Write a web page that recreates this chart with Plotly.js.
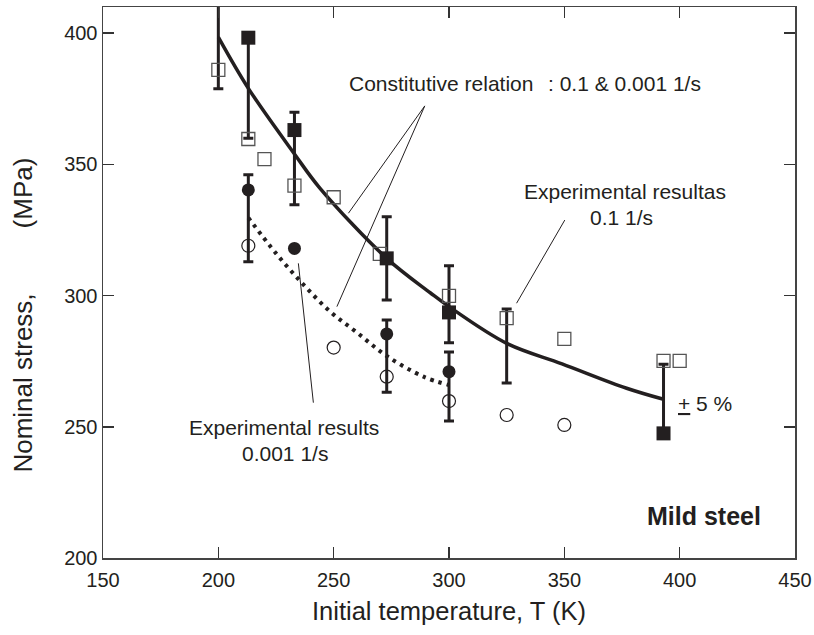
<!DOCTYPE html>
<html>
<head>
<meta charset="utf-8">
<script src="https://cdn.plot.ly/plotly-3.0.1.min.js"></script>
<style>html,body{margin:0;padding:0;background:#fff;}#chart{width:814px;height:635px;}</style>
</head>
<body>
<div id="chart"></div>
<script>
// ---- data ----
var sqFilledT = [213, 233, 273, 300, 393];
var sqFilledS = [398.3, 363.1, 314.2, 293.6, 247.5];

var sqOpenT = [200, 213, 220, 233, 250, 270, 300, 325, 350, 393, 400];
var sqOpenS = [386.0, 359.7, 352.0, 341.9, 337.5, 315.9, 299.9, 291.4, 283.5, 275.1, 275.1];

var cFilledT = [213, 233, 273, 300];
var cFilledS = [340.3, 318.0, 285.4, 271.0];

var cOpenT = [213, 250, 273, 300, 325, 350];
var cOpenS = [319.0, 280.2, 269.1, 259.8, 254.5, 250.7];

// error bars (+/- 5 %): low and high ends
var errT    = [200, 213, 233, 273, 300, 213, 273, 300, 325, 393];
var errLow  = [378.8, 360.0, 334.6, 298.3, 282.0, 312.9, 263.2, 252.2, 266.7, 247.5];
var errHigh = [430.0, 398.3, 369.9, 330.1, 311.4, 346.1, 290.7, 278.5, 294.9, 273.8];

// constitutive relation curves
var fastT = [200, 213, 233, 244, 273, 292, 300, 325, 349, 377, 393];
var fastS = [398.5, 379.0, 354.0, 341.0, 314.2, 301.0, 295.8, 281.8, 274.0, 264.7, 260.5];
var slowT = [213, 225, 237, 248.5, 260, 273, 289, 300];
var slowS = [329.7, 316.1, 304.1, 293.9, 286.0, 277.0, 269.1, 265.9];

var xTicks = [150, 200, 250, 300, 350, 400, 450];
var yTicks = [200, 250, 300, 350, 400];

// ---- styles ----
var ink = '#231f20';
var FONT = 'Liberation Sans, Arial, Helvetica, sans-serif';

var errPlus = errT.map(function (t, i) { return errHigh[i] - errLow[i]; });
var errZero = errT.map(function () { return 0; });

var traces = [
  { x: errT, y: errLow, type: 'scatter', mode: 'markers', marker: { size: 1, opacity: 0 },
    error_y: { type: 'data', symmetric: false, array: errPlus, arrayminus: errZero,
               color: ink, thickness: 3, width: 5 }, hoverinfo: 'skip', showlegend: false },
  { x: fastT, y: fastS, type: 'scatter', mode: 'lines',
    line: { color: ink, width: 3.5, shape: 'spline', smoothing: 1 }, showlegend: false },
  { x: slowT, y: slowS, type: 'scatter', mode: 'lines',
    line: { color: ink, width: 4, dash: '3.5px,5px', shape: 'spline', smoothing: 1 }, showlegend: false },
  { x: sqOpenT, y: sqOpenS, type: 'scatter', mode: 'markers',
    marker: { symbol: 'square-open', size: 13, color: '#555', line: { width: 1.3, color: '#555' } }, showlegend: false },
  { x: cOpenT, y: cOpenS, type: 'scatter', mode: 'markers',
    marker: { symbol: 'circle-open', size: 13, color: ink, line: { width: 1.2, color: ink } }, showlegend: false },
  { x: cFilledT, y: cFilledS, type: 'scatter', mode: 'markers',
    marker: { symbol: 'circle', size: 13, color: ink }, showlegend: false },
  { x: sqFilledT, y: sqFilledS, type: 'scatter', mode: 'markers',
    marker: { symbol: 'square', size: 14, color: ink }, showlegend: false }
];

function note(text, x, y, size, xanchor, extra) {
  var a = { text: text, x: x, y: y, xref: 'x', yref: 'y', showarrow: false,
            xanchor: xanchor || 'center', yanchor: 'middle',
            font: { family: FONT, size: size, color: ink } };
  if (extra) for (var k in extra) a[k] = extra[k];
  return a;
}

var annotations = [
  note('Constitutive relation', 296.7, 380.7, 21),
  note(': 0.1 &amp; 0.001 1/s', 342.0, 380.7, 21, 'left'),
  note('Experimental resultas', 376.5, 339.5, 21),
  note('0.1 1/s', 374.8, 329.6, 21),
  note('Experimental results', 228.5, 249.6, 21),
  note('0.001 1/s', 229.0, 240.0, 21),
  note('<u>+</u> 5 %', 398.5, 258.7, 21, 'left'),
  note('<b>Mild steel</b>', 410.5, 216.0, 25),
  { text: 'Nominal stress,\u00a0\u00a0\u00a0\u00a0\u00a0\u00a0\u00a0\u00a0\u00a0(MPa)', xref: 'paper', yref: 'paper',
    x: -0.1156, y: 0.44, showarrow: false, textangle: -90, xanchor: 'center', yanchor: 'middle',
    font: { family: FONT, size: 26, color: ink } }
];

function seg(x0, y0, x1, y1) {
  return { type: 'line', xref: 'x', yref: 'y', x0: x0, y0: y0, x1: x1, y1: y1,
           line: { color: ink, width: 1 } };
}
var shapes = [
  seg(289.5, 372.3, 256.4, 331.4),
  seg(289.5, 372.3, 251.4, 295.8),
  seg(350.2, 328.8, 329.3, 297.1),
  seg(241.2, 259.2, 234.7, 312.3)
];

var axisCommon = {
  showgrid: false, zeroline: false, showline: true, linecolor: '#444', linewidth: 1.5,
  mirror: 'ticks', ticks: 'inside', ticklen: 11, tickwidth: 1.5, tickcolor: '#333',
  tickfont: { family: FONT, size: 20, color: ink }
};

var layout = {
  width: 814, height: 635,
  margin: { l: 103, r: 19, t: 7, b: 77 },
  paper_bgcolor: '#fff', plot_bgcolor: '#fff',
  showlegend: false,
  xaxis: Object.assign({}, axisCommon, {
    range: [150, 450], tickvals: xTicks, ticktext: xTicks.map(String), ticklabelstandoff: 3,
    title: { text: 'Initial temperature, T (K)', font: { family: FONT, size: 25.5, color: ink }, standoff: 12 }
  }),
  yaxis: Object.assign({}, axisCommon, {
    range: [200, 410], tickvals: yTicks, ticktext: yTicks.map(String)
  }),
  annotations: annotations,
  shapes: shapes
};

Plotly.newPlot('chart', traces, layout, { staticPlot: true, displayModeBar: false });
</script>
</body>
</html>
